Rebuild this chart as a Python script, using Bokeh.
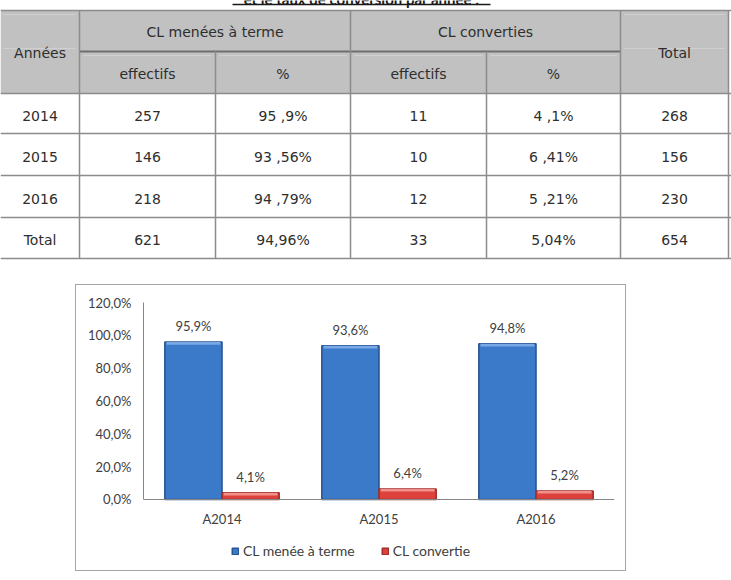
from bokeh.plotting import figure
from bokeh.models import ColumnDataSource, FactorRange, Range1d, FixedTicker, Legend, LegendItem, Spacer
from bokeh.layouts import column, row
from bokeh.transform import dodge
from bokeh.core.properties import value
from bokeh.embed import file_html
from bokeh.resources import INLINE

# ---------------- data ----------------
title_text = "et le taux de conversion par année :"
header_groups = ["CL menées à terme", "CL converties"]
header_sub = ["effectifs", "%", "effectifs", "%"]
header_side = ["Années", "Total"]
row_labels = ["2014", "2015", "2016", "Total"]
menees_eff = ["257", "146", "218", "621"]
menees_pct = ["95 ,9%", "93 ,56%", "94 ,79%", "94,96%"]
conv_eff = ["11", "10", "12", "33"]
conv_pct = ["4 ,1%", "6 ,41%", "5 ,21%", "5,04%"]
totals = ["268", "156", "230", "654"]

categories = ["A2014", "A2015", "A2016"]
series_names = ["CL menée à terme", "CL convertie"]
menee_values = [95.9, 93.6, 94.8]
convertie_values = [4.1, 6.4, 5.2]
y_ticks = [0, 20, 40, 60, 80, 100, 120]

# ---------------- table layout ----------------
TW, TH = 731, 284
col_edges = [0, 79, 215, 350, 486, 620, 728]
h_top, h_mid, h_bot = 10, 51, 93
row_edges = [93, 133, 175, 217, 258]
row_text_y = [115, 156, 198, 239]
TFONT = "DejaVu Sans"
TSIZE = "14px"
TCOL = "#2e2e2e"
LCOL = "#8c8c8c"

t = figure(width=TW, height=TH, x_range=Range1d(0, TW), y_range=Range1d(TH, 0),
           x_axis_type=None, y_axis_type=None, toolbar_location=None,
           output_backend="svg", min_border=0, outline_line_color=None)
t.grid.visible = False

# header background
t.quad(left=[col_edges[0]], right=[col_edges[-1]], top=[h_top], bottom=[h_bot],
       fill_color="#c1c1c1", line_color=None)
# faint inner cell borders (word-table look)
t.segment(x0=[3, 83, 219, 354, 490, 624, 3, 624], y0=[48, 55, 55, 55, 55, 48, 14, 14],
          x1=[75, 211, 346, 482, 616, 724, 75, 724], y1=[48, 55, 55, 55, 55, 48, 14, 14],
          line_color="#d0d0d0", line_width=1)

# title (cut at the top edge, as in the source page)
t.text(x=[361], y=[-2], text=[title_text], text_align="center", text_baseline="alphabetic",
       text_font=value("Lato"), text_font_style="bold", text_font_size="15px", text_color="#1a1a1a")
t.segment(x0=[232], y0=[4], x1=[490], y1=[4], line_color="#1a1a1a", line_width=1.5)

# grid lines
hx0, hy0, hx1, hy1 = [], [], [], []
for y in [h_top] + row_edges:
    hx0.append(col_edges[0]); hx1.append(TW); hy0.append(y); hy1.append(y)
t.segment(x0=hx0, y0=hy0, x1=hx1, y1=hy1, line_color=LCOL, line_width=1.5)
t.segment(x0=[col_edges[1]], y0=[h_mid], x1=[col_edges[5]], y1=[h_mid], line_color="#6e6e6e", line_width=2)
vx, vy0, vy1 = [], [], []
for i, x in enumerate(col_edges[1:]):
    vx.append(x)
    vy0.append(h_mid if i + 1 in (2, 4) else h_top)
    vy1.append(row_edges[-1])
t.segment(x0=vx, y0=vy0, x1=vx, y1=vy1, line_color=LCOL, line_width=1.5)

centers = [(col_edges[i] + col_edges[i + 1]) / 2 for i in range(6)]
# header texts
t.text(x=[centers[0], centers[5]], y=[(h_top + h_bot) / 2 + 1] * 2, text=header_side,
       text_align="center", text_baseline="middle", text_font=value(TFONT),
       text_font_size=TSIZE, text_color=TCOL)
t.text(x=[(col_edges[1] + col_edges[3]) / 2, (col_edges[3] + col_edges[5]) / 2],
       y=[(h_top + h_mid) / 2 + 1] * 2, text=header_groups,
       text_align="center", text_baseline="middle", text_font=value(TFONT),
       text_font_size=TSIZE, text_color=TCOL)
t.text(x=centers[1:5], y=[(h_mid + h_bot) / 2 + 1] * 4, text=header_sub,
       text_align="center", text_baseline="middle", text_font=value(TFONT),
       text_font_size=TSIZE, text_color=TCOL)

cols = [row_labels, menees_eff, menees_pct, conv_eff, conv_pct, totals]
tx, ty, tt = [], [], []
for j, colvals in enumerate(cols):
    for i, v in enumerate(colvals):
        tx.append(centers[j]); ty.append(row_text_y[i]); tt.append(v)
t.text(x=tx, y=ty, text=tt, text_align="center", text_baseline="middle",
       text_font=value(TFONT), text_font_size=TSIZE, text_color=TCOL)

# ---------------- chart ----------------
def fmt(v):
    return f"{v:.1f}".replace(".", ",") + "%"

HL = 1.6  # height of the bevel highlight, in value units
src = ColumnDataSource(dict(cat=categories, menee=menee_values, conv=convertie_values,
                            menee_hl=[v - HL for v in menee_values],
                            conv_hl=[v - HL for v in convertie_values],
                            menee_lbl=[fmt(v) for v in menee_values],
                            conv_lbl=[fmt(v) for v in convertie_values]))

CFONT = "Lato"
CCOL = "#404040"
Y_BELOW = 43.25  # room under the 0 line for category labels and legend
p = figure(x_range=FactorRange(factors=categories), y_range=Range1d(-Y_BELOW, 120),
           width=551, height=287, output_backend="svg", toolbar_location=None,
           min_border_left=67, min_border_right=13, min_border_top=17, min_border_bottom=2,
           styles={"border": "1px solid #a6a6a6"})
p.grid.visible = False
p.outline_line_color = None

BW = 0.364
OFF = BW / 2
r1 = p.vbar(x=dodge("cat", -OFF, range=p.x_range), top="menee", width=BW, source=src,
            fill_color="#3b7ac9", line_color="#295591", line_width=1.6)
p.vbar(x=dodge("cat", -OFF, range=p.x_range), top="menee", bottom="menee_hl", width=BW - 0.02,
       source=src, fill_color="#78a9e6", line_color=None)
r2 = p.vbar(x=dodge("cat", OFF, range=p.x_range), top="conv", width=BW, source=src,
            fill_color="#dc413b", line_color="#a22d29", line_width=1.6)
p.vbar(x=dodge("cat", OFF, range=p.x_range), top="conv", bottom="conv_hl", width=BW - 0.02,
       source=src, fill_color="#f2918c", line_color=None)

for xo, col, lbl in [(-OFF, "menee", "menee_lbl"), (OFF, "conv", "conv_lbl")]:
    p.text(x=dodge("cat", xo, range=p.x_range), y=col, text=lbl, source=src,
           text_align="center", text_baseline="middle", y_offset=-16,
           text_font=value(CFONT), text_font_size="13px", text_color=CCOL)

p.yaxis.ticker = FixedTicker(ticks=y_ticks)
p.yaxis.major_label_overrides = {tk: fmt(tk) for tk in y_ticks}
p.yaxis.bounds = (0, 120)
p.xaxis.fixed_location = 0
for ax in (p.xaxis, p.yaxis):
    ax.axis_line_color = "#868686"
    ax.major_tick_line_color = None
    ax.minor_tick_line_color = None
    ax.major_tick_out = 0
    ax.major_tick_in = 0
    ax.major_label_text_font = CFONT
    ax.major_label_text_font_size = "13px"
    ax.major_label_text_color = CCOL
p.yaxis.major_label_standoff = 12
p.xaxis.major_label_standoff = 12

legend = Legend(items=[LegendItem(label=series_names[0], renderers=[r1]),
                       LegendItem(label=series_names[1], renderers=[r2])],
                orientation="horizontal", location=(88, 11),
                glyph_width=8, glyph_height=8, label_standoff=4, spacing=26,
                label_text_font=CFONT, label_text_font_size="14px", label_text_color=CCOL,
                border_line_color=None, background_fill_alpha=0, margin=0, padding=4)
p.add_layout(legend)

layout = column(t, row(Spacer(width=75, height=289), p))

open("out.html", "w").write(file_html(layout, INLINE))
